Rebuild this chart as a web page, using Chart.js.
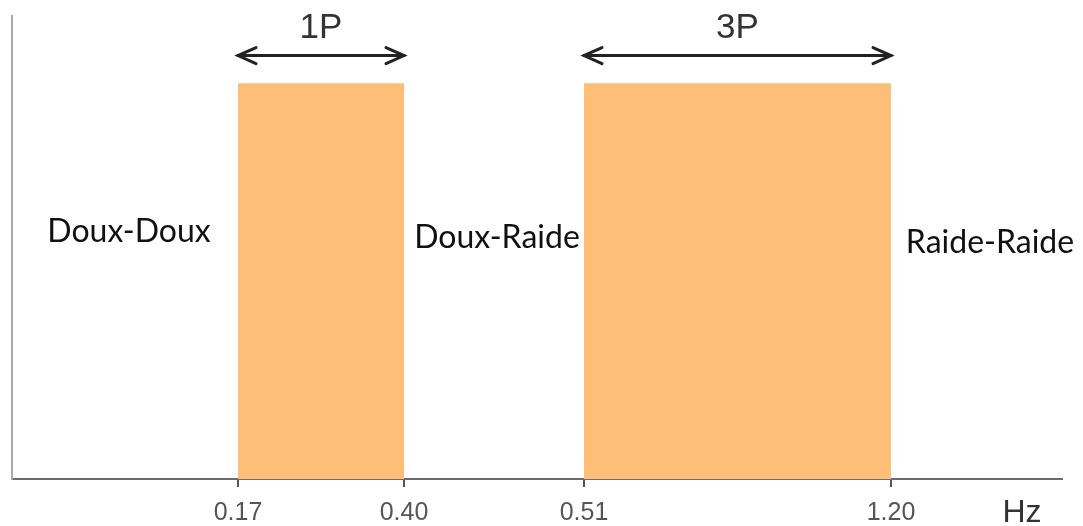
<!DOCTYPE html>
<html>
<head>
<meta charset="utf-8">
<script src="https://cdn.jsdelivr.net/npm/chart.js@4.4.1/dist/chart.umd.min.js"></script>
<style>
  html, body { margin: 0; padding: 0; background: #fff; }
  #wrap { width: 1083px; height: 526px; }
</style>
</head>
<body>
<div id="wrap"><canvas id="chart"></canvas></div>
<script>
// frequency breakpoints (Hz) and where each sits along the drawn axis (axis is not to scale)
const hzStops = [0, 0.17, 0.40, 0.51, 1.20, 1.50];
const axisStops = [0, 226, 392, 572, 879, 1050];

const tickHz = [0.17, 0.40, 0.51, 1.20];
const tickLabels = ["0.17", "0.40", "0.51", "1.20"];

// bands: 1P and 3P
const bandNames = ["1P", "3P"];
const bandStart = [0.17, 0.51];
const bandEnd = [0.40, 1.20];
const bandHeight = [1, 1];

// zones between bands
const zoneNames = ["Doux-Doux", "Doux-Raide", "Raide-Raide"];

function hzToAxis(hz) {
  for (let i = 0; i < hzStops.length - 1; i++) {
    if (hz <= hzStops[i + 1]) {
      const t = (hz - hzStops[i]) / (hzStops[i + 1] - hzStops[i]);
      return axisStops[i] + t * (axisStops[i + 1] - axisStops[i]);
    }
  }
  return axisStops[axisStops.length - 1];
}

const bandColor = "#FDBE78";

const datasets = bandNames.map((name, i) => ({
  label: name,
  data: [
    { x: hzToAxis(bandStart[i]), y: bandHeight[i] },
    { x: hzToAxis(bandEnd[i]), y: bandHeight[i] },
  ],
  borderWidth: 0,
  borderColor: bandColor,
  backgroundColor: bandColor,
  pointRadius: 0,
  fill: "origin",
  tension: 0,
}));

function arrowHead(ctx, x, y, dir) {
  ctx.beginPath();
  ctx.moveTo(x + dir * 18, y - 8);
  ctx.lineTo(x, y);
  ctx.lineTo(x + dir * 18, y + 8);
  ctx.stroke();
}

const annotations = {
  id: "annotations",
  afterDatasetsDraw(chart) {
    const { ctx, scales } = chart;
    const xs = scales.x;
    const ys = scales.y;
    ctx.save();

    // double arrows with band names
    bandNames.forEach((name, i) => {
      const x0 = xs.getPixelForValue(hzToAxis(bandStart[i]));
      const x1 = xs.getPixelForValue(hzToAxis(bandEnd[i]));
      const y = ys.getPixelForValue(1.07);
      ctx.strokeStyle = "#222";
      ctx.lineWidth = 3;
      ctx.lineCap = "round";
      ctx.beginPath();
      ctx.moveTo(x0, y);
      ctx.lineTo(x1, y);
      ctx.stroke();
      arrowHead(ctx, x0, y, 1);
      arrowHead(ctx, x1, y, -1);

      ctx.fillStyle = "#333";
      ctx.font = "35px 'Liberation Sans', Arial, sans-serif";
      ctx.textAlign = "center";
      ctx.textBaseline = "middle";
      ctx.fillText(name, (x0 + x1) / 2, ys.getPixelForValue(1.14));
    });

    // zone labels
    const zoneX = [117, 485, 978];
    const zoneY = [0.625, 0.61, 0.598];
    ctx.fillStyle = "#111";
    ctx.font = "32px Lato, 'Noto Sans', sans-serif";
    ctx.textAlign = "center";
    ctx.textBaseline = "middle";
    zoneNames.forEach((name, i) => {
      ctx.fillText(name, xs.getPixelForValue(zoneX[i]), ys.getPixelForValue(zoneY[i]));
    });

    // unit
    ctx.fillStyle = "#333";
    ctx.font = "32px 'Liberation Sans', Arial, sans-serif";
    ctx.textAlign = "center";
    ctx.fillText("Hz", xs.getPixelForValue(1010), ys.bottom + 34);

    ctx.restore();
  },
};

new Chart(document.getElementById("chart").getContext("2d"), {
  type: "line",
  data: { datasets: datasets },
  options: {
    responsive: true,
    maintainAspectRatio: false,
    animation: false,
    layout: { padding: { top: 16, right: 21, left: 0, bottom: 0 } },
    scales: {
      x: {
        type: "linear",
        min: axisStops[0],
        max: axisStops[axisStops.length - 1],
        afterBuildTicks: (scale) => {
          scale.ticks = tickHz.map((hz) => ({ value: hzToAxis(hz) }));
        },
        afterFit: (scale) => {
          scale.height = 47;
        },
        border: { display: true, color: "#6b6b6b", width: 2 },
        grid: {
          display: true,
          drawOnChartArea: false,
          drawTicks: true,
          tickLength: 8,
          color: "#555",
          lineWidth: 2,
        },
        ticks: {
          autoSkip: false,
          maxRotation: 0,
          padding: 11,
          color: "#555",
          font: { family: "'Liberation Sans', Arial, sans-serif", size: 25 },
          callback: function (value) {
            const idx = tickHz.findIndex((hz) => Math.abs(hzToAxis(hz) - value) < 0.001);
            return idx >= 0 ? tickLabels[idx] : "";
          },
        },
      },
      y: {
        min: 0,
        max: 1.17,
        afterFit: (scale) => {
          scale.width = 12;
        },
        border: { display: true, color: "#aaa", width: 2 },
        grid: { display: false },
        ticks: { display: false },
      },
    },
    plugins: {
      legend: { display: false },
      tooltip: { enabled: false },
    },
  },
  plugins: [annotations],
});
</script>
</body>
</html>
